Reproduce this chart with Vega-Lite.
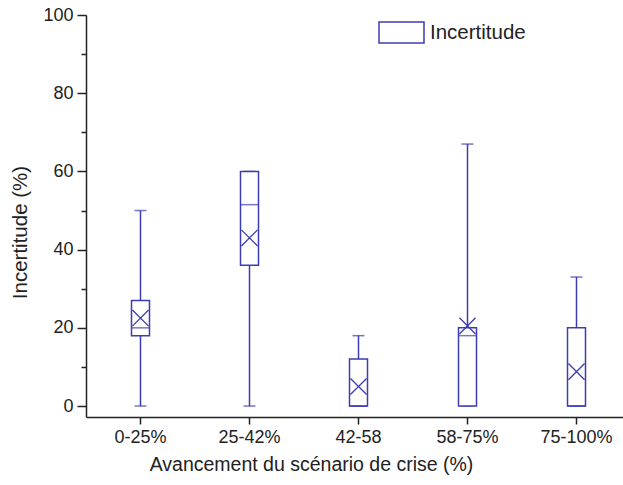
{
  "$schema": "https://vega.github.io/schema/vega-lite/v6.json",
  "autosize": "none",
  "padding": {"left": 86, "top": 15, "right": 0, "bottom": 68},
  "width": 537,
  "height": 402,
  "background": "white",
  "config": {
    "view": {"stroke": null},
    "font": "Liberation Sans",
    "axis": {"grid": false, "domainColor": "#222", "tickColor": "#222", "labelColor": "#222", "titleColor": "#222", "labelFont": "Liberation Sans", "titleFont": "Liberation Sans", "titleFontWeight": "normal", "domainWidth": 1.5, "tickWidth": 1.5}
  },
  "data": {
    "values": [
      {"cat": "0-25%", "lo": 0, "q1": 18, "med": 20, "q3": 27, "hi": 50, "mean": 22.5, "serie": "Incertitude"},
      {"cat": "25-42%", "lo": 0, "q1": 36, "med": 51.5, "q3": 60, "hi": 60, "mean": 43, "serie": "Incertitude"},
      {"cat": "42-58", "lo": 0, "q1": 0, "med": 0, "q3": 12, "hi": 18, "mean": 5, "serie": "Incertitude"},
      {"cat": "58-75%", "lo": 0, "q1": 0, "med": 18, "q3": 20, "hi": 67, "mean": 20.5, "serie": "Incertitude"},
      {"cat": "75-100%", "lo": 0, "q1": 0, "med": 0, "q3": 20, "hi": 33, "mean": 8.8, "serie": "Incertitude"}
    ]
  },
  "encoding": {
    "x": {
      "field": "cat", "type": "nominal", "sort": null,
      "scale": {"range": [0, 545], "paddingInner": 0, "paddingOuter": 0},
      "axis": {"title": "Avancement du scénario de crise (%)", "labelAngle": 0, "labelFontSize": 18, "titleFontSize": 19.5, "tickSize": 7, "labelPadding": 4, "titlePadding": 9, "titleX": 225}
    }
  },
  "layer": [
    {
      "mark": {"type": "rule", "color": "#3c3cb4", "strokeWidth": 1.5},
      "encoding": {
        "y": {"field": "lo", "type": "quantitative", "scale": {"domain": [-2.8, 100], "nice": false, "zero": false},
          "axis": {"title": "Incertitude (%)", "values": [0, 10, 20, 30, 40, 50, 60, 70, 80, 90, 100],
            "labelExpr": "datum.value % 20 === 0 ? datum.label : ''",
            "tickSize": {"condition": {"test": "datum.value % 20 === 0", "value": 9}, "value": 5},
            "labelFontSize": 18, "titleFontSize": 20.5, "labelPadding": 4, "titlePadding": 12, "titleY": 217}},
        "y2": {"field": "hi"}
      }
    },
    {
      "mark": {"type": "tick", "color": "#3c3cb4", "thickness": 1.5, "size": 12},
      "encoding": {"y": {"field": "lo", "type": "quantitative"}}
    },
    {
      "mark": {"type": "tick", "color": "#3c3cb4", "thickness": 1.5, "size": 12},
      "encoding": {"y": {"field": "hi", "type": "quantitative"}}
    },
    {
      "mark": {"type": "bar", "fill": "white", "strokeWidth": 1.5, "size": 18},
      "encoding": {
        "y": {"field": "q1", "type": "quantitative"},
        "y2": {"field": "q3"},
        "stroke": {"field": "serie", "type": "nominal", "scale": {"range": ["#3c3cb4"]},
          "legend": {"title": null, "orient": "none", "legendX": 292, "legendY": -6, "symbolType": "M-1,-0.47H1V0.47H-1Z", "symbolSize": 2025, "symbolFillColor": "white", "symbolStrokeWidth": 1.5, "labelFontSize": 20.5, "labelColor": "#222", "labelFont": "Liberation Sans", "labelOffset": 5}}
      }
    },
    {
      "mark": {"type": "tick", "color": "#3c3cb4", "thickness": 1.5, "size": 18},
      "encoding": {"y": {"field": "med", "type": "quantitative"}}
    },
    {
      "mark": {"type": "point", "shape": "M-1,-1L1,1M-1,1L1,-1", "filled": false, "color": "#3c3cb4", "strokeWidth": 1.3, "size": 260, "opacity": 1},
      "encoding": {"y": {"field": "mean", "type": "quantitative"}}
    }
  ]
}
